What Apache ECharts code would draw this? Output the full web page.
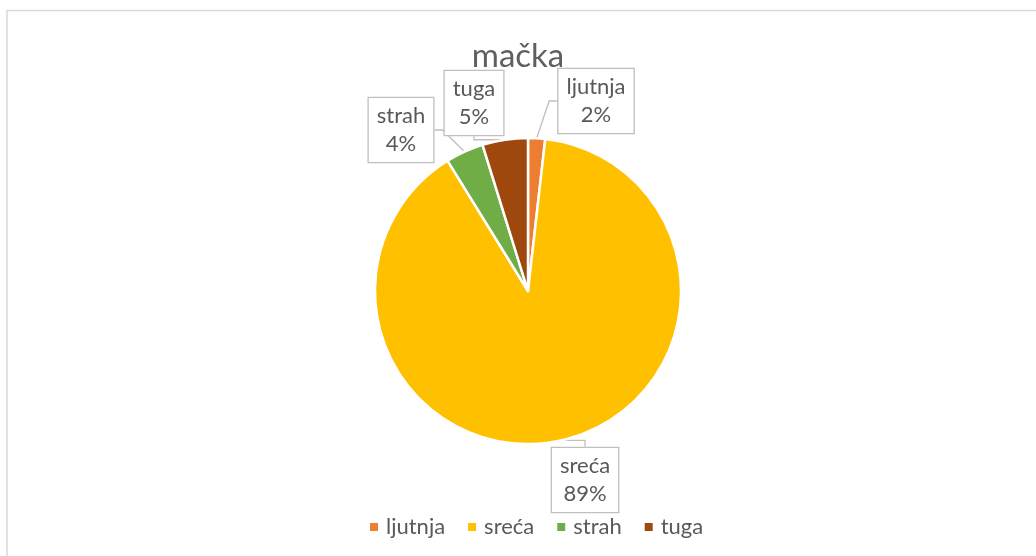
<!DOCTYPE html>
<html>
<head>
<meta charset="utf-8">
<script src="https://cdn.jsdelivr.net/npm/echarts@6/dist/echarts.min.js"></script>
<style>html,body{margin:0;padding:0;background:#fff}#c{width:1036px;height:556px}</style>
</head>
<body>
<div id="c"></div>
<script>
// Data
const titleText = 'mačka';
const categories = ['ljutnja', 'sreća', 'strah', 'tuga'];
const values = [1.8, 89.4, 4.0, 4.8];
const colors = ['#ED7D31', '#FFC000', '#70AD47', '#9E480E'];

// Layout (label box centers)
const labelCenters = [[596, 101], [585, 480], [401, 130], [474, 103]];

const chart = echarts.init(document.getElementById('c'), null, {renderer: 'canvas'});
const font = 'Lato, "Noto Sans", sans-serif';
chart.setOption({
  animation: false,
  graphic: [{
    type: 'rect', silent: true,
    shape: {x: 7, y: 10.5, width: 1200, height: 700},
    style: {fill: 'none', stroke: '#d9d9d9', lineWidth: 1.5}
  }],
  title: {
    text: titleText, left: 'center', top: 35,
    textStyle: {fontFamily: font, fontSize: 33, fontWeight: 'normal', color: '#5f5f5f'}
  },
  legend: {
    data: categories, left: 363, top: 511,
    icon: 'rect', itemWidth: 10, itemHeight: 10, itemGap: 21,
    textStyle: {fontFamily: font, fontSize: 22, color: '#595959', padding: [0, 0, 0, 2]}
  },
  series: [{
    type: 'pie',
    center: [528, 291], radius: 153,
    startAngle: 90, clockwise: true,
    percentPrecision: 0,
    emphasis: {disabled: true},
    itemStyle: {borderColor: '#fff', borderWidth: 2.5},
    label: {
      show: true, position: 'outside',
      formatter: '{b}\n{d}%',
      fontFamily: font, fontSize: 22, lineHeight: 28, color: '#595959',
      backgroundColor: '#fff', borderColor: '#bfbfbf', borderWidth: 1.3,
      padding: [4, 8, 4, 8], align: 'center'
    },
    labelLine: {show: true, length: 8, length2: 8, lineStyle: {color: '#bfbfbf', width: 1.3}},
    labelLayout: function (p) {
      const c = labelCenters[p.dataIndex];
      return {x: c[0], y: c[1], align: 'center', verticalAlign: 'middle'};
    },
    data: categories.map((n, i) => ({name: n, value: values[i], itemStyle: {color: colors[i]}}))
  }]
});
</script>
</body>
</html>
